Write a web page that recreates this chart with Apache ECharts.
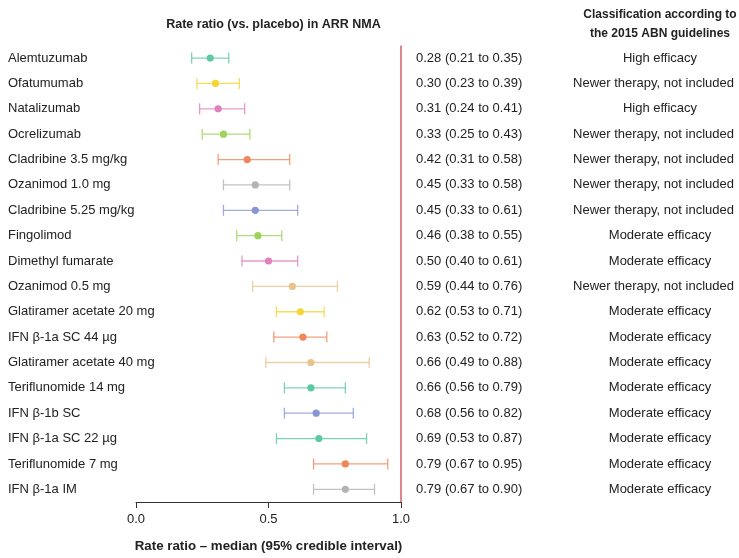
<!DOCTYPE html>
<html><head><meta charset="utf-8">
<script src="https://cdn.jsdelivr.net/npm/echarts@6/dist/echarts.min.js"></script>
<style>html,body{margin:0;padding:0;background:#fff}#c{width:739px;height:558px}</style>
</head><body><div id="c"></div>
<script>
const drugs = ["Alemtuzumab","Ofatumumab","Natalizumab","Ocrelizumab","Cladribine 3.5 mg/kg","Ozanimod 1.0 mg","Cladribine 5.25 mg/kg","Fingolimod","Dimethyl fumarate","Ozanimod 0.5 mg","Glatiramer acetate 20 mg","IFN β-1a SC 44 µg","Glatiramer acetate 40 mg","Teriflunomide 14 mg","IFN β-1b SC","IFN β-1a SC 22 µg","Teriflunomide 7 mg","IFN β-1a IM"];
const median = [0.28,0.30,0.31,0.33,0.42,0.45,0.45,0.46,0.50,0.59,0.62,0.63,0.66,0.66,0.68,0.69,0.79,0.79];
const lower  = [0.21,0.23,0.24,0.25,0.31,0.33,0.33,0.38,0.40,0.44,0.53,0.52,0.49,0.56,0.56,0.53,0.67,0.67];
const upper  = [0.35,0.39,0.41,0.43,0.58,0.58,0.61,0.55,0.61,0.76,0.71,0.72,0.88,0.79,0.82,0.87,0.95,0.90];
const classification = ["High efficacy","Newer therapy, not included","High efficacy","Newer therapy, not included","Newer therapy, not included","Newer therapy, not included","Newer therapy, not included","Moderate efficacy","Moderate efficacy","Newer therapy, not included","Moderate efficacy","Moderate efficacy","Moderate efficacy","Moderate efficacy","Moderate efficacy","Moderate efficacy","Moderate efficacy","Moderate efficacy"];
const colors = ["#5cc9a0","#f5d535","#e27fbd","#9ed35a","#f0875a","#b3b3b3","#8a96d4","#9ed35a","#e27fbd","#e8c48c","#f5d535","#f0875a","#e8c48c","#5cc9a0","#8a96d4","#5cc9a0","#f0875a","#b3b3b3"];
const xTicks = [0, 0.5, 1.0];

const font = "'Liberation Sans', Arial, Helvetica, sans-serif";
const txt = "#222";
const fmt = v => v.toFixed(2);
const valueText = drugs.map((d,i)=> fmt(median[i]) + " (" + fmt(lower[i]) + " to " + fmt(upper[i]) + ")");

const chart = echarts.init(document.getElementById('c'), null, {renderer:'canvas'});
chart.setOption({
  animation:false,
  backgroundColor:'#fff',
  textStyle:{fontFamily:font},
  grid:{left:136, right:338, top:45.4, bottom:52.3, containLabel:false},
  title:[
    {text:"Rate ratio (vs. placebo) in ARR NMA", left:268.5, top:13, textAlign:'center',
     textStyle:{fontSize:12.5, fontWeight:'bold', color:txt, fontFamily:font}},
    {text:"Classification according to\nthe 2015 ABN guidelines", left:655, top:0, textAlign:'center',
     textStyle:{fontSize:12, fontWeight:'bold', color:txt, fontFamily:font, lineHeight:19}}
  ],
  xAxis:{type:'value', min:0, max:1, interval:0.5,
    axisLine:{show:true, lineStyle:{color:'#333', width:1}},
    axisTick:{show:true, length:6, lineStyle:{color:'#333'}},
    splitLine:{show:false},
    axisLabel:{formatter:v=> xTicks.indexOf(v)>=0 ? v.toFixed(1) : '', fontSize:13, color:txt, margin:11, fontFamily:font},
    name:"Rate ratio – median (95% credible interval)", nameLocation:'middle', nameGap:38,
    nameTextStyle:{fontSize:13.3, fontWeight:'bold', color:txt, fontFamily:font}
  },
  yAxis:[
    {type:'category', data:drugs, inverse:true, position:'left',
     axisLine:{show:false}, axisTick:{show:false}, splitLine:{show:false},
     axisLabel:{align:'left', margin:128, fontSize:13, color:txt, fontFamily:font}},
    {type:'category', data:valueText, inverse:true, position:'right',
     axisLine:{show:false}, axisTick:{show:false}, splitLine:{show:false},
     axisLabel:{align:'left', margin:15, fontSize:13, color:txt, fontFamily:font}},
    {type:'category', data:classification, inverse:true, position:'right', offset:0,
     axisLine:{show:false}, axisTick:{show:false}, splitLine:{show:false},
     axisLabel:{align:'center', margin:259, fontSize:13, color:txt, fontFamily:font,
       formatter: v => v.length > 20 ? '{n|' + v + '}' : '{m|' + v + '}',
       rich:{
         n:{fontSize:13, color:txt, fontFamily:font, padding:[0,13,0,0]},
         m:{fontSize:13, color:txt, fontFamily:font}
       }}}
  ],
  series:[{
    type:'custom',
    yAxisIndex:0,
    data: drugs.map((d,i)=>[lower[i], upper[i], median[i], i]),
    renderItem:(params, api)=>{
      const i = api.value(3);
      const lo = api.coord([api.value(0), i]);
      const hi = api.coord([api.value(1), i]);
      const md = api.coord([api.value(2), i]);
      const c = colors[i];
      const h = 5.5;
      const ls = {stroke:c, lineWidth:1.3, opacity:0.8};
      return {type:'group', children:[
        {type:'line', shape:{x1:lo[0], y1:lo[1], x2:hi[0], y2:hi[1]}, style:ls},
        {type:'line', shape:{x1:lo[0], y1:lo[1]-h, x2:lo[0], y2:lo[1]+h}, style:ls},
        {type:'line', shape:{x1:hi[0], y1:hi[1]-h, x2:hi[0], y2:hi[1]+h}, style:ls},
        {type:'circle', shape:{cx:md[0], cy:md[1], r:3.6}, style:{fill:c}}
      ]};
    },
    markLine:{silent:true, symbol:'none', label:{show:false},
      lineStyle:{color:'#d2606c', width:1.5, type:'solid'},
      data:[{xAxis:1}]}
  }]
});
</script></body></html>
